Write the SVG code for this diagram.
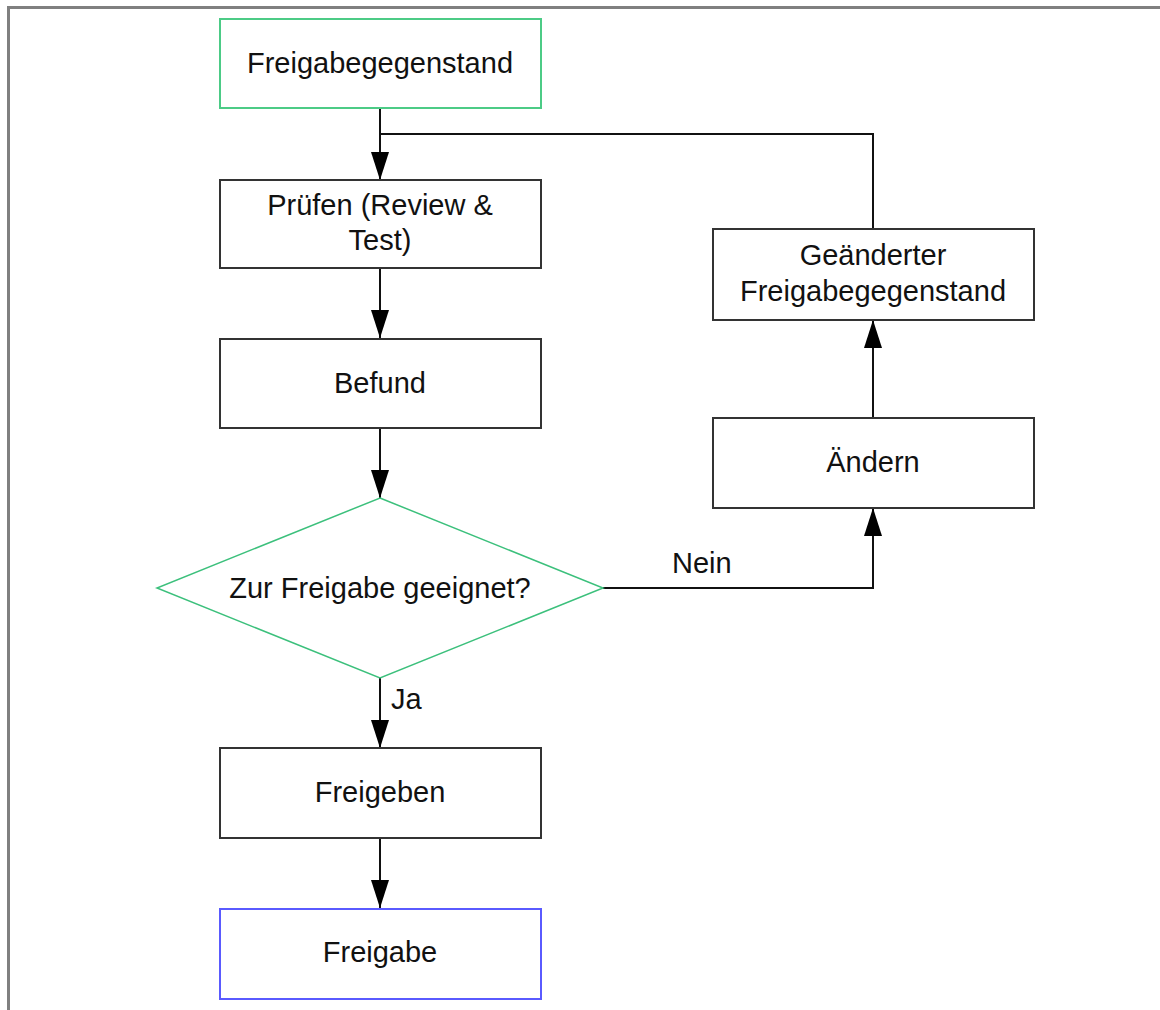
<svg xmlns="http://www.w3.org/2000/svg" width="1160" height="1010" viewBox="0 0 1160 1010">
  <style>
    .box { fill: #ffffff; stroke: #333333; stroke-width: 2; }
    .start { fill: #ffffff; stroke: #4ccb86; stroke-width: 2; }
    .end { fill: #ffffff; stroke: #5a5aff; stroke-width: 2; }
    .decision { fill: #ffffff; stroke: #3cc07c; stroke-width: 1.5; }
    .label { font-family: "Liberation Sans", Arial, sans-serif; font-size: 29px; fill: #111111; text-anchor: middle; }
    .edge-label { font-family: "Liberation Sans", Arial, sans-serif; font-size: 29px; fill: #111111; }
    .wire { fill: none; stroke: #111111; stroke-width: 2; }
  </style>
  <defs>
    <marker id="arrow" markerUnits="userSpaceOnUse" markerWidth="28" markerHeight="18" refX="28" refY="9" viewBox="0 0 28 18" orient="auto">
      <path d="M0,0 L28,9 L0,18 Z" fill="#000000"/>
    </marker>
  </defs>

  <rect width="1160" height="1010" fill="#ffffff"/>
  <!-- page frame (top and left edges) -->
  <path d="M8.5,1010 V7.5 H1160" fill="none" stroke="#808080" stroke-width="3"/>

  <g id="connectors">
    <path class="wire" d="M380,109 V180" marker-end="url(#arrow)"/>
    <path class="wire" d="M873,229 V134 H380"/>
    <path class="wire" d="M380,268 V338" marker-end="url(#arrow)"/>
    <path class="wire" d="M380,428 V498" marker-end="url(#arrow)"/>
    <path class="wire" d="M603,588 H873 V508" marker-end="url(#arrow)"/>
    <path class="wire" d="M873,418 V320" marker-end="url(#arrow)"/>
    <path class="wire" d="M380,678 V748" marker-end="url(#arrow)"/>
    <path class="wire" d="M380,838 V908" marker-end="url(#arrow)"/>
    <text class="edge-label" x="672" y="573">Nein</text>
    <text class="edge-label" x="391" y="709">Ja</text>
  </g>

  <g id="freigabegegenstand">
    <rect class="start" x="220" y="19" width="321" height="89"/>
    <text class="label" x="380" y="73">Freigabegegenstand</text>
  </g>

  <g id="pruefen">
    <rect class="box" x="220" y="180" width="321" height="88"/>
    <text class="label" x="380" y="215">Prüfen (Review &amp;</text>
    <text class="label" x="380" y="250">Test)</text>
  </g>

  <g id="befund">
    <rect class="box" x="220" y="339" width="321" height="89"/>
    <text class="label" x="380" y="393">Befund</text>
  </g>

  <g id="zur-freigabe-geeignet">
    <polygon class="decision" points="380,498 603,588 380,678 157,588"/>
    <text class="label" x="380" y="598">Zur Freigabe geeignet?</text>
  </g>

  <g id="freigeben">
    <rect class="box" x="220" y="748" width="321" height="90"/>
    <text class="label" x="380" y="802">Freigeben</text>
  </g>

  <g id="freigabe">
    <rect class="end" x="220" y="909" width="321" height="90"/>
    <text class="label" x="380" y="962">Freigabe</text>
  </g>

  <g id="aendern">
    <rect class="box" x="713" y="418" width="321" height="90"/>
    <text class="label" x="873" y="472">Ändern</text>
  </g>

  <g id="geaenderter-freigabegegenstand">
    <rect class="box" x="713" y="229" width="321" height="91"/>
    <text class="label" x="873" y="265">Geänderter</text>
    <text class="label" x="873" y="301">Freigabegegenstand</text>
  </g>
</svg>
